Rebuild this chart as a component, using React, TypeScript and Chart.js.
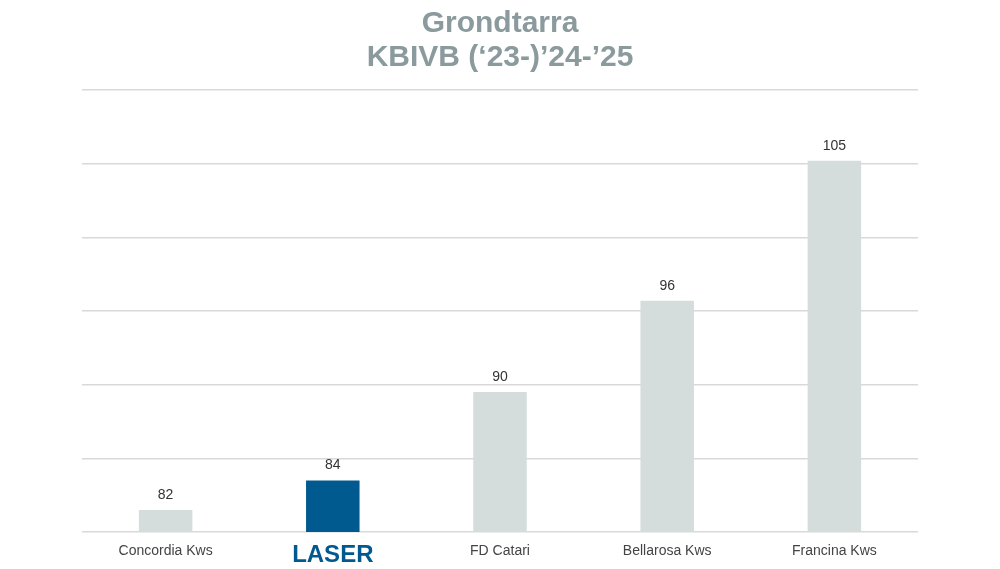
import React, { useEffect, useRef } from 'react';
import { Chart, registerables } from 'chart.js';

Chart.register(...registerables);

const varieties = ['Concordia Kws', 'LASER', 'FD Catari', 'Bellarosa Kws', 'Francina Kws'];
const tarraValues = [81.5, 83.5, 89.5, 95.7, 105.2];
const barColors = ['#d5dddc', '#005a8f', '#d5dddc', '#d5dddc', '#d5dddc'];
const titleLines = ['Grondtarra', 'KBIVB (\u201823-)\u201924-\u201925'];

// draws the rounded value above each bar
const valueLabels = {
  id: 'valueLabels',
  afterDatasetsDraw(chart: Chart) {
    const { ctx } = chart;
    const meta = chart.getDatasetMeta(0);
    ctx.save();
    ctx.font = '14px "Liberation Sans", Arial, sans-serif';
    ctx.fillStyle = '#333333';
    ctx.textAlign = 'center';
    ctx.textBaseline = 'bottom';
    meta.data.forEach((bar: any, i: number) => {
      ctx.fillText(String(Math.round(tarraValues[i])), bar.x, bar.y - 8);
    });
    ctx.restore();
  },
};

const App: React.FC = () => {
  const canvasRef = useRef<HTMLCanvasElement>(null);
  const chartRef = useRef<Chart | null>(null);

  useEffect(() => {
    if (!canvasRef.current) return;
    if (chartRef.current) chartRef.current.destroy();

    chartRef.current = new Chart(canvasRef.current, {
      type: 'bar',
      data: {
        labels: varieties,
        datasets: [
          {
            data: tarraValues,
            backgroundColor: barColors,
            categoryPercentage: 1,
            barPercentage: 0.32,
          },
        ],
      },
      options: {
        animation: false,
        responsive: true,
        maintainAspectRatio: false,
        layout: { padding: { left: 82, right: 82, top: 0, bottom: 0 } },
        plugins: {
          legend: { display: false },
          tooltip: { enabled: false },
          title: {
            display: true,
            text: titleLines,
            color: '#8b9a9d',
            font: { family: '"Liberation Sans", Arial, sans-serif', size: 30, weight: 'bold', lineHeight: 1.15 },
            padding: { top: 6, bottom: 15 },
          },
        },
        scales: {
          x: {
            grid: { display: false },
            border: { display: false },
            afterFit: (scale: any) => {
              scale.height = 37;
            },
            ticks: {
              padding: 3,
              color: (c: any) => (c.index === 1 ? '#005a8f' : '#444444'),
              font: (c: any) =>
                c.index === 1
                  ? { family: '"Liberation Sans Narrow", "Liberation Sans", Arial, sans-serif', size: 24, weight: 'bold', lineHeight: 1 }
                  : { family: '"Liberation Sans", Arial, sans-serif', size: 14 },
            },
          },
          y: {
            min: 80,
            max: 110,
            ticks: { display: false, stepSize: 5 },
            grid: { color: '#d9d9d9', lineWidth: 1.5, drawTicks: false },
            border: { display: false },
          },
        },
      },
      plugins: [valueLabels],
    });

    return () => {
      if (chartRef.current) {
        chartRef.current.destroy();
        chartRef.current = null;
      }
    };
  }, []);

  return (
    <div style={{ position: 'fixed', left: 0, top: 0, width: 1000, height: 569, background: '#ffffff' }}>
      <canvas ref={canvasRef}></canvas>
    </div>
  );
};

export default App;
